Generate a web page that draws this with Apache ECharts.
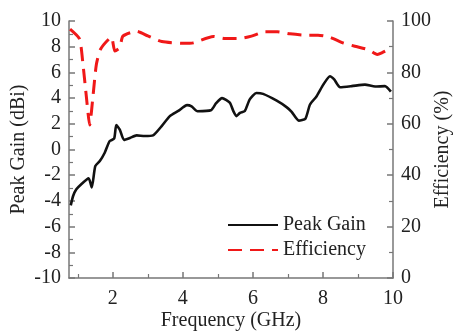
<!DOCTYPE html>
<html>
<head>
<meta charset="utf-8">
<script src="https://cdn.jsdelivr.net/npm/echarts@6/dist/echarts.min.js"></script>
<style>
  html, body { margin: 0; padding: 0; background: #fff; }
  #chart { width: 457px; height: 333px; }
  .preload { position: absolute; left: -999px; top: 0; font-family: 'Liberation Serif'; }
</style>
</head>
<body>
<span class="preload">Peak Gain 0123456789</span>
<div id="chart"></div>
<script>
// Frequency (GHz) / peak gain (dBi)
const gainFreq = [0.8, 0.87, 0.96, 1.1, 1.31, 1.4, 1.5, 1.63, 1.77, 1.91, 2.04, 2.1, 2.2, 2.32, 2.49, 2.68, 2.91, 3.15, 3.39, 3.63, 3.87, 4.12, 4.25, 4.42, 4.8, 4.95, 5.12, 5.34, 5.44, 5.53, 5.63, 5.77, 5.91, 6.1, 6.29, 6.68, 6.96, 7.1, 7.31, 7.5, 7.63, 7.82, 8.01, 8.2, 8.32, 8.49, 8.82, 9.2, 9.49, 9.77, 9.94]
const gainValues = [-4.35, -3.6, -3.1, -2.7, -2.25, -2.95, -1.3, -0.9, -0.25, 0.65, 0.85, 1.9, 1.55, 0.75, 0.9, 1.1, 1.05, 1.1, 1.8, 2.6, 3.0, 3.45, 3.35, 2.98, 3.05, 3.6, 4.0, 3.65, 3.0, 2.6, 2.85, 3.0, 3.9, 4.4, 4.33, 3.8, 3.3, 2.95, 2.25, 2.4, 3.5, 4.15, 5.05, 5.7, 5.45, 4.85, 4.93, 5.05, 4.9, 4.93, 4.5]

// Frequency (GHz) / efficiency (%)
const effFreq = [0.78, 1.05, 1.15, 1.25, 1.34, 1.44, 1.53, 1.65, 1.96, 2.06, 2.2, 2.29, 2.68, 3.0, 3.4, 4.0, 4.3, 4.87, 5.2, 5.63, 5.96, 6.34, 6.7, 7.06, 7.5, 7.86, 8.2, 8.57, 8.91, 9.29, 9.55, 9.68, 9.95]
const effValues = [96.8, 93, 83, 70, 59.5, 71.5, 83, 89, 93.7, 88.3, 89.6, 94.1, 96, 94.2, 92, 91.3, 91.5, 94, 93.2, 93.2, 94.1, 95.8, 95.8, 95, 94.5, 94.5, 93.7, 91.5, 90.2, 88.9, 87, 87.6, 89.5]

const xMajorTicks = [2, 4, 6, 8, 10]
const xMinorTicks = [1, 3, 5, 7, 9]

const serifFont = 'Liberation Serif'
const axisColor = '#777'
const textColor = '#222'

function drawChart() {
  const chart = echarts.init(document.getElementById('chart'))
  const label = { fontFamily: serifFont, fontSize: 20, color: textColor }

  chart.setOption({
    animation: false,
    textStyle: { fontFamily: serifFont },
    grid: { left: 69, right: 64, top: 21, bottom: 55, outerBoundsMode: 'none', containLabel: false },
    legend: {
      orient: 'vertical',
      left: 222,
      top: 210,
      itemWidth: 50,
      itemHeight: 14,
      itemGap: 5,
      itemStyle: { opacity: 0 },
      textStyle: { ...label, lineHeight: 20 },
      data: ['Peak Gain', 'Efficiency'],
    },
    xAxis: [
      {
        type: 'value',
        min: 0.75,
        max: 10,
        name: 'Frequency (GHz)',
        nameLocation: 'middle',
        nameGap: 33,
        nameMoveOverlap: false,
        nameTextStyle: label,
        axisLine: { onZero: false, lineStyle: { color: axisColor, width: 1.5 } },
        axisTick: { inside: true, length: 6, customValues: xMajorTicks, lineStyle: { color: axisColor, width: 1.5 } },
        axisLabel: { ...label, customValues: xMajorTicks, margin: 11 },
        splitLine: { show: false },
      },
      {
        type: 'value',
        min: 0.75,
        max: 10,
        position: 'bottom',
        axisLine: { show: false, onZero: false },
        axisTick: { inside: true, length: 4, customValues: xMinorTicks, lineStyle: { color: axisColor, width: 1.2 } },
        axisLabel: { show: false },
        splitLine: { show: false },
      },
    ],
    yAxis: [
      {
        type: 'value',
        min: -10,
        max: 10,
        interval: 2,
        name: 'Peak Gain (dBi)',
        nameLocation: 'middle',
        nameGap: 40,
        nameMoveOverlap: false,
        nameTextStyle: label,
        axisLine: { show: true, onZero: false, lineStyle: { color: axisColor, width: 1.5 } },
        axisTick: { show: true, inside: true, length: 6, lineStyle: { color: axisColor, width: 1.5 } },
        minorTick: { show: true, splitNumber: 2, length: 4, lineStyle: { color: axisColor, width: 1.2 } },
        axisLabel: { ...label, margin: 8 },
        splitLine: { show: false },
      },
      {
        type: 'value',
        min: 0,
        max: 100,
        interval: 20,
        position: 'right',
        name: 'Efficiency (%)',
        nameLocation: 'middle',
        nameGap: 40,
        nameRotate: 90,
        nameMoveOverlap: false,
        nameTextStyle: label,
        axisLine: { show: true, onZero: false, lineStyle: { color: axisColor, width: 1.5 } },
        axisTick: { show: true, inside: true, length: 6, lineStyle: { color: axisColor, width: 1.5 } },
        minorTick: { show: true, splitNumber: 2, length: 4, lineStyle: { color: axisColor, width: 1.2 } },
        axisLabel: { ...label, margin: 8 },
        splitLine: { show: false },
      },
    ],
    series: [
      {
        name: 'Peak Gain',
        type: 'line',
        xAxisIndex: 0,
        yAxisIndex: 0,
        data: gainFreq.map((f, i) => [f, gainValues[i]]),
        symbol: 'none',
        smooth: 0.2,
        lineStyle: { color: '#111', width: 2.6 },
        itemStyle: { color: '#111' },
      },
      {
        name: 'Efficiency',
        type: 'line',
        xAxisIndex: 0,
        yAxisIndex: 1,
        data: effFreq.map((f, i) => [f, effValues[i]]),
        symbol: 'none',
        smooth: 0.2,
        lineStyle: { color: '#f01818', width: 3, type: [14, 8] },
        itemStyle: { color: '#f01818' },
      },
    ],
  })
}

if (document.fonts && document.fonts.load) {
  document.fonts.load('20px "Liberation Serif"').then(drawChart, drawChart)
} else {
  drawChart()
}
</script>
</body>
</html>
